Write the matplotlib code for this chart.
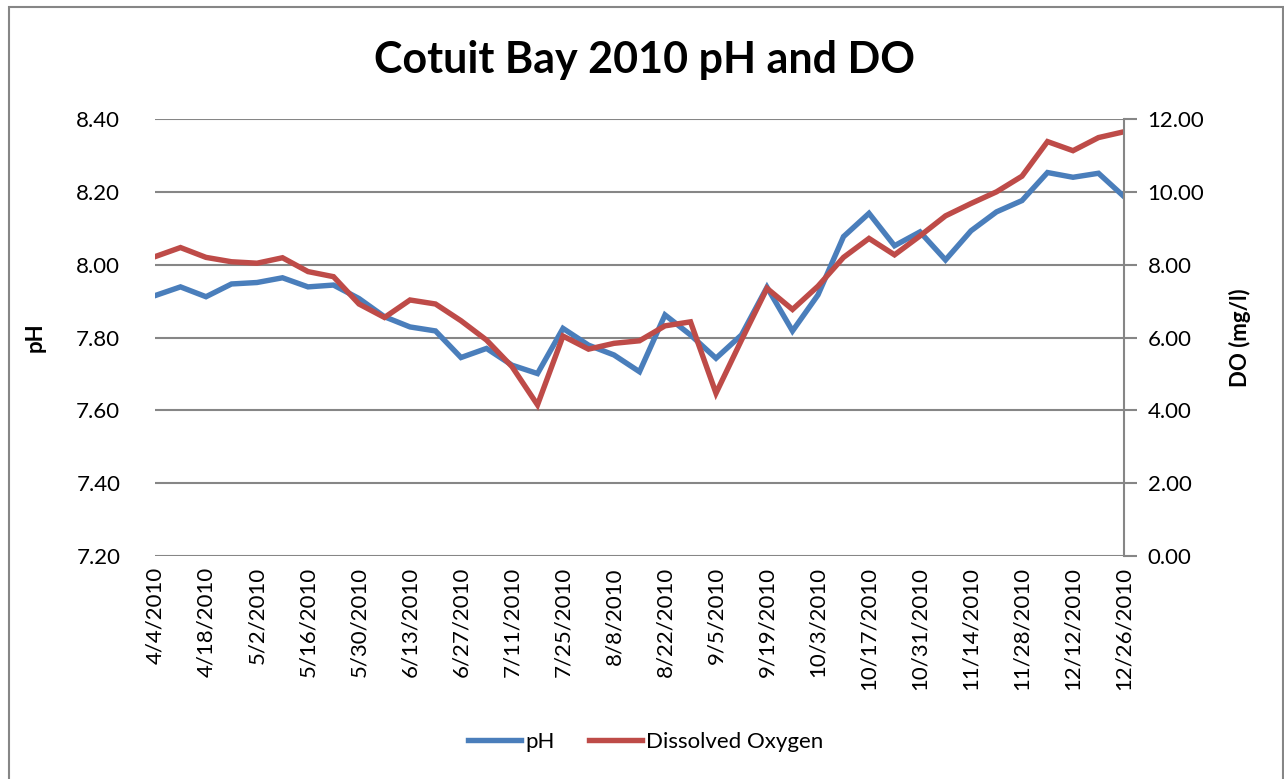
import matplotlib.pyplot as plt
from matplotlib.patches import Rectangle
import pandas as pd

plt.rcParams['font.family'] = ['Lato', 'DejaVu Sans']

# ---------------- DATA ----------------
dates = pd.date_range("2010-04-04", "2010-12-26", freq="7D")

ph = [7.915, 7.939, 7.912, 7.947, 7.951, 7.964, 7.939, 7.944, 7.907, 7.857,
      7.829, 7.818, 7.745, 7.770, 7.724, 7.701, 7.825, 7.779, 7.752, 7.706,
      7.862, 7.807, 7.743, 7.807, 7.938, 7.818, 7.917, 8.077, 8.141, 8.052,
      8.090, 8.013, 8.093, 8.145, 8.176, 8.253, 8.240, 8.251, 8.187]

do = [8.22, 8.47, 8.20, 8.08, 8.04, 8.19, 7.81, 7.67, 6.92, 6.55,
      7.03, 6.92, 6.46, 5.93, 5.20, 4.15, 6.04, 5.68, 5.84, 5.91,
      6.32, 6.43, 4.47, 5.93, 7.35, 6.77, 7.41, 8.20, 8.72, 8.27,
      8.79, 9.34, 9.68, 10.00, 10.43, 11.38, 11.13, 11.49, 11.65]

tick_dates = dates[::2]
tick_labels = [f"{d.month}/{d.day}/{d.year}" for d in tick_dates]

blue = "#4a7ebb"
red = "#be4b48"
grey = "#868686"

# ---------------- PLOT ----------------
fig = plt.figure(figsize=(12.84, 7.79), dpi=100)
ax = fig.add_axes([155/1284, 1-556/779, (1124-155)/1284, (556-119)/779])
ax2 = ax.twinx()

l1, = ax.plot(dates, ph, color=blue, lw=3.9, label="pH", solid_joinstyle="miter")
l2, = ax2.plot(dates, do, color=red, lw=3.9, label="Dissolved Oxygen", solid_joinstyle="miter")

ax.set_xlim(dates[0], dates[-1])
ax.set_ylim(7.2, 8.4)
ax2.set_ylim(0, 12)
ax.set_yticks([7.2, 7.4, 7.6, 7.8, 8.0, 8.2, 8.4])
ax.set_yticklabels([f"{v:.2f}" for v in ax.get_yticks()])
ax2.set_yticks(range(0, 13, 2))
ax2.set_yticklabels([f"{v:.2f}" for v in range(0, 13, 2)])

ax.set_xticks(tick_dates)
ax.set_xticklabels(tick_labels, rotation=90, va="top", ha="center")

ax.grid(axis="y", color=grey, lw=1.5)
ax.set_axisbelow(True)
for a in (ax, ax2):
    for s in a.spines.values():
        s.set_visible(False)
ax2.spines["right"].set_visible(True)
ax2.spines["right"].set_color(grey)
ax2.spines["right"].set_linewidth(1.5)

ax.tick_params(axis="y", length=0, labelsize=16, pad=25)
ax.tick_params(axis="x", length=0, labelsize=16, pad=8)
ax2.tick_params(axis="y", length=9, width=1.5, color=grey, labelsize=16, pad=8)

ax.set_ylabel("pH", fontsize=16, fontweight="bold", labelpad=22)
ax2.set_ylabel("DO (mg/l)", fontsize=16, fontweight="bold", labelpad=18)

fig.text(0.502, 1-60/779, "Cotuit Bay 2010 pH and DO", ha="center", va="center",
         fontsize=31, fontweight="bold")

fig.legend(handles=[l1, l2], loc="center", bbox_to_anchor=(0.503, 1-742/779),
           ncol=2, frameon=False, fontsize=16, handlelength=2.4, handletextpad=0.2,
           columnspacing=1.5)

fig.patches.append(Rectangle((9/1284, -0.01), (1282.5-9)/1284, (779-7)/779+0.01,
                             transform=fig.transFigure, fill=False, ec=grey, lw=1.5))

plt.savefig("out.png", dpi=100)
